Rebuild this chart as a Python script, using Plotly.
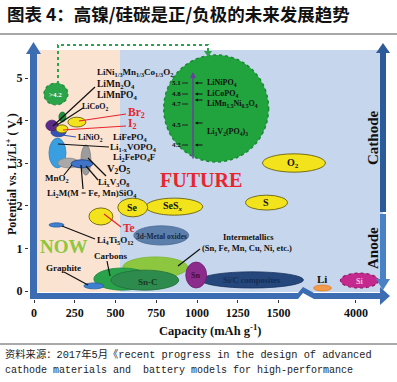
import plotly.graph_objects as go

# ---------------- data ----------------
# capacity axis is broken after 1500 mAh/g; values right of the break are in compressed axis units
materials = ["High-voltage cathodes", "O2", "S", "SeSx", "Se", "Te", "3d-Metal oxides",
             "Intermetallics", "Carbons", "Sn-C", "Si/C composites", "Sn", "Li", "Si",
             "Graphite", "Li4Ti5O12", "LiFePO4 / Li1-xVOPO4 / Li2FePO4F", "V2O5", "MnO2",
             "Li2MSiO4 / LixV3O8", "LiNiO2", "LiCoO2", "LiMn2O4 / LiMnPO4 / NMC", "I2", "Br2", ">4.2 V"]
cap_lo = [796, 1402, 1298, 686, 514, 337, 612, 545, 367, 472, 1023, 931, 1715, 1880,
          306, 92, 92, 288, 147, 227, 104, 73, 153, 135, 208, 61]
cap_hi = [1439, 1788, 1555, 1035, 698, 484, 949, 943, 716, 888, 1653, 1059, 1825, 2113,
          429, 184, 196, 349, 276, 361, 196, 147, 196, 208, 318, 208]
v_lo = [3.03, 2.79, 1.90, 1.78, 1.74, 1.55, 1.08, 0.31, 0.02, 0.02, 0.07, 0.07, 0.00, 0.07,
        0.05, 1.50, 2.89, 2.72, 2.89, 2.89, 3.62, 3.76, 3.97, 3.71, 3.85, 4.37]
v_hi = [5.54, 3.22, 2.25, 2.18, 2.18, 1.95, 1.53, 0.80, 0.54, 0.49, 0.45, 0.68, 0.14, 0.42,
        0.19, 1.60, 3.59, 3.43, 3.12, 3.08, 3.83, 4.01, 4.20, 3.90, 4.08, 4.88]

x_tick_vals = [0, 250, 500, 750, 1000, 1250, 1500, 1975]
x_tick_text = ["0", "250", "500", "750", "1000", "1250", "1500", "4000"]
y_tick_vals = [0, 1, 2, 3, 4, 5]

inset_volts = ["5.1", "4.8", "4.7", "4.5", "4.2"]
inset_materials = ["LiNiPO<sub>4</sub>", "LiCoPO<sub>4</sub>",
                   "LiMn<sub>1.5</sub>Ni<sub>0.5</sub>O<sub>4</sub>",
                   "Li<sub>3</sub>V<sub>2</sub>(PO<sub>4</sub>)<sub>3</sub>"]

# ---------------- styles ----------------
YEL = ("#f3e31c", "#5a5200", "solid", 0.8)
styles = [
    ("#21a33d", "#178a2e", "dot", 1.5), YEL, YEL, YEL, YEL, YEL,
    ("#5b7eab", "#4a6a95", "solid", 0.8),
    ("#8dc63f", "#7ab52f", "solid", 0.8),
    ("#2aa24c", "#1f8a3c", "solid", 0.8),
    ("#2e8b4e", "#206e3a", "solid", 0.8),
    ("#25477b", "#1b3560", "solid", 0.8),
    ("#8b2c8d", "#6e1f70", "solid", 0.8),
    ("#f29a4b", "#e08030", "solid", 0.8),
    ("#c42a8d", "#8e1c66", "dot", 1.2),
    ("#3f7fcf", "#2c5ea0", "solid", 0.8),
    ("#3f7fcf", "#2c5ea0", "solid", 0.8),
    ("#3a9fe0", "#2a80c0", "solid", 0.8),
    ("#9c9c9c", "#808080", "solid", 0.8),
    ("#a9a9a9", "#888888", "solid", 0.8),
    ("#3f74c8", "#1f3f80", "solid", 0.8),
    ("#3454b6", "#2a4596", "solid", 0.8),
    ("#5a2b88", "#45206a", "solid", 0.8),
    ("#1f8f3a", "#157030", "solid", 0.8),
    YEL, YEL,
    ("#2ca44a", "#1e8a3a", "dot", 1.2),
]

W, H = 397, 382
L_PX, R_PX, T_PX, B_PX = 29, 395, 40, 299
CAP0_PX, CAP_SCALE = 34.0, 0.163
V0_PX, V_SCALE = 291.0, 42.6
x_range = [(L_PX - CAP0_PX) / CAP_SCALE, (R_PX - CAP0_PX) / CAP_SCALE]
y_range = [(V0_PX - B_PX) / V_SCALE, (V0_PX - T_PX) / V_SCALE]


def fx(px):
    return (px - L_PX) / (R_PX - L_PX)


def fy(py):
    return (B_PX - py) / (B_PX - T_PX)


def poly(pts, close=True):
    s = "M " + " L ".join(f"{fx(a):.5f},{fy(b):.5f}" for a, b in pts)
    return s + (" Z" if close else "")


SERIF = "Liberation Serif"
fig = go.Figure()

# invisible hover layer built from the data
fig.add_trace(go.Scatter(
    x=[(a + b) / 2 for a, b in zip(cap_lo, cap_hi)],
    y=[(a + b) / 2 for a, b in zip(v_lo, v_hi)],
    mode="markers", marker=dict(size=8, opacity=0), text=materials,
    hoverinfo="text", showlegend=False))

shapes = []
# backgrounds
shapes.append(dict(type="rect", xref="paper", yref="paper", x0=fx(37), x1=fx(383), y0=fy(292), y1=fy(50),
                   fillcolor="#c6d6ec", line=dict(width=0), layer="below"))
shapes.append(dict(type="rect", xref="paper", yref="paper", x0=fx(37), x1=fx(120), y0=fy(292), y1=fy(50),
                   fillcolor="#fbe3d2", line=dict(width=0), layer="below"))

# ellipses from data
for i in range(len(materials)):
    fill, lc, dash, lw = styles[i]
    shapes.append(dict(type="circle", xref="x", yref="y", x0=cap_lo[i], x1=cap_hi[i], y0=v_lo[i], y1=v_hi[i],
                       fillcolor=fill, line=dict(color=lc, width=lw, dash=dash)))

# axis arrows
AX = "#3c6db3"
shapes.append(dict(type="rect", xref="paper", yref="paper", x0=fx(30), x1=fx(37), y0=fy(299), y1=fy(53),
                   fillcolor=AX, line=dict(width=0)))
shapes.append(dict(type="path", xref="paper", yref="paper", path=poly([(26, 54), (41, 54), (33.5, 42)]),
                   fillcolor=AX, line=dict(width=0)))
shapes.append(dict(type="rect", xref="paper", yref="paper", x0=fx(30), x1=fx(298), y0=fy(299), y1=fy(293),
                   fillcolor=AX, line=dict(width=0)))
shapes.append(dict(type="path", xref="paper", yref="paper",
                   path=poly([(298, 293), (303, 287), (314, 293), (314, 299), (303, 293), (298, 299)]),
                   fillcolor=AX, line=dict(width=0)))
shapes.append(dict(type="rect", xref="paper", yref="paper", x0=fx(314), x1=fx(381), y0=fy(299), y1=fy(293),
                   fillcolor=AX, line=dict(width=0)))
shapes.append(dict(type="path", xref="paper", yref="paper", path=poly([(380, 287), (380, 305), (390, 296)]),
                   fillcolor=AX, line=dict(width=0)))
# cathode / anode arrow
shapes.append(dict(type="rect", xref="paper", yref="paper", x0=fx(380), x1=fx(386), y0=fy(212), y1=fy(52),
                   fillcolor="#2d5a98", line=dict(width=0)))
shapes.append(dict(type="path", xref="paper", yref="paper", path=poly([(376, 53), (390, 53), (383, 43)]),
                   fillcolor="#2d5a98", line=dict(width=0)))
shapes.append(dict(type="rect", xref="paper", yref="paper", x0=fx(380), x1=fx(386), y0=fy(280), y1=fy(214),
                   fillcolor="#4a80c4", line=dict(width=0)))
shapes.append(dict(type="path", xref="paper", yref="paper", path=poly([(376, 279), (390, 279), (383, 290)]),
                   fillcolor="#4a80c4", line=dict(width=0)))

# green dotted connector
shapes.append(dict(type="path", xref="paper", yref="paper",
                   path=poly([(58, 84), (58, 45), (208, 45), (208, 52)], close=False),
                   line=dict(color="#2ca44a", width=2, dash="dot")))
shapes.append(dict(type="path", xref="paper", yref="paper", path=poly([(204, 51), (212, 51), (208, 57)]),
                   fillcolor="#2ca44a", line=dict(width=0)))


# leader lines
def seg(p, q, color="#111111", w=1.2):
    shapes.append(dict(type="line", xref="paper", yref="paper", x0=fx(p[0]), y0=fy(p[1]),
                       x1=fx(q[0]), y1=fy(q[1]), line=dict(color=color, width=w)))


RED = "#e8252f"
seg((79, 121), (126, 114), RED)
seg((63, 130), (126, 126), RED)
seg((104, 214), (121, 227), RED)
seg((62, 135), (76, 137), "#3355b8")
seg((95, 87), (53, 126))
seg((83, 108), (57, 125))
seg((109, 147), (58, 144))
seg((64, 175), (72, 165))
seg((83, 189), (81, 165))
seg((98, 180), (86, 166))
seg((106, 176), (88, 158))
seg((62, 226), (95, 239))
seg((64, 272), (88, 285))
seg((107, 261), (110, 276))
seg((200, 249), (178, 266))
# inset tick dashes
inset_y = [83, 94, 104, 125, 145]
for yy in inset_y:
    seg((182, yy), (188, yy), "#222222", 1)
# separators
shapes.append(dict(type="line", xref="paper", yref="paper", x0=fx(0), x1=fx(397), y0=fy(34), y1=fy(34),
                   line=dict(color="#8a8a8a", width=1.5)))
shapes.append(dict(type="line", xref="paper", yref="paper", x0=fx(0), x1=fx(397), y0=fy(344), y1=fy(344),
                   line=dict(color="#555555", width=1)))

ann = []


def lab(text, px, py, size=9, color="#111111", xa="left", family=SERIF, weight="bold", angle=0):
    ann.append(dict(text=text, x=fx(px), y=fy(py), xref="paper", yref="paper", xanchor=xa,
                    yanchor="middle", showarrow=False, textangle=angle,
                    font=dict(family=family, size=size, color=color, weight=weight)))


lab("LiNi<sub>1/3</sub>Mn<sub>1/3</sub>Co<sub>1/3</sub>O<sub>2</sub>", 95, 72, 9)
lab("LiMn<sub>2</sub>O<sub>4</sub>", 95, 84, 9.5)
lab("LiMnPO<sub>4</sub>", 95, 95, 9.5)
lab("LiCoO<sub>2</sub>", 80, 107, 8)
lab("Br<sub>2</sub>", 126, 113, 11.5, RED)
lab("I<sub>2</sub>", 126, 124, 11.5, RED)
lab("LiNiO<sub>2</sub>", 76, 138, 8)
lab("LiFePO<sub>4</sub>", 111, 137, 9)
lab("Li<sub>1-x</sub>VOPO<sub>4</sub>", 108, 147, 9)
lab("Li<sub>2</sub>FePO<sub>4</sub>F", 111, 157, 9)
lab("V<sub>2</sub>O<sub>5</sub>", 105, 169, 10.5)
lab("MnO<sub>2</sub>", 43, 178, 9)
lab("Li<sub>x</sub>V<sub>3</sub>O<sub>8</sub>", 96, 182, 9)
lab("Li<sub>2</sub>M(M = Fe, Mn)SiO<sub>4</sub>", 45, 194, 9)
lab("Te", 121, 228, 11.5, RED)
lab("Li<sub>4</sub>Ti<sub>5</sub>O<sub>12</sub>", 95, 240, 9)
lab("NOW", 38, 246, 19, "#8dc63f")
lab("Carbons", 92, 256, 9)
lab("Graphite", 44, 268, 9)
lab("3d-Metal oxides", 161, 236, 7.5, "#1c2a3c", "center")
lab("Intermetallics", 248, 237, 8.5, "#111111", "center")
lab("(Sn, Fe, Mn, Cu, Ni, etc.)", 200, 248, 8.5)
lab("Sn-C", 148, 282, 9, "#163b20", "center")
lab("Sn", 195, 275, 8, "#3d0b40", "center")
lab("Si/C composites", 252, 280, 8.5, "#142f58", "center")
lab("Li", 322, 279, 11, "#111111", "center")
lab("Si", 359, 281, 8, "#f4c8e4", "center")
lab("FUTURE", 158, 180, 20, RED)
lab("O<sub>2</sub>", 293, 163, 10, "#111111", "center")
lab("S", 266, 202, 10, "#111111", "center")
lab("Se", 132, 207, 10, "#111111", "center")
lab("SeS<sub><i>x</i></sub>", 173, 206, 10, "#111111", "center")
lab("&gt;4.2", 55, 95, 7, "#ffffff", "center")
for t, yy in zip(inset_volts, inset_y):
    lab(t, 176, yy, 7, "#111111", "center")
for t, yy in zip(inset_materials, [83, 94, 104, 132]):
    lab(t, 205, yy, 8)
lab("Cathode", 373, 138, 15, "#111111", "center", angle=-90)
lab("Anode", 373, 248, 15, "#111111", "center", angle=-90)
lab("Potential vs. Li/Li<sup>+</sup> ( V )", 11, 174, 12, "#111111", "center", angle=-90)
lab("Capacity (mAh g<sup>-1</sup>)", 210, 330, 12.5, "#111111", "center")
lab("图表 4：高镍/硅碳是正/负极的未来发展趋势", 5, 14, 17.5, "#111111", "left", family="Noto Sans CJK SC")
lab("资料来源：2017年5月《recent progress in the design of advanced", 3, 354, 10.3, "#222222", "left",
    family="Liberation Mono, Noto Sans CJK SC", weight="normal")
lab("cathode materials and  battery models for high-performance", 3, 371, 10, "#222222", "left",
    family="Liberation Mono, Noto Sans CJK SC", weight="normal")

# purple inset arrow and small pointer arrows
ann.append(dict(text="", x=fx(193), y=fy(72), xref="paper", yref="paper", showarrow=True,
                ax=0, ay=88, arrowhead=2, arrowsize=0.8, arrowwidth=1.5, arrowcolor="#6b3fa0"))
for yy in [83, 94, 100, 123, 145]:
    ann.append(dict(text="", x=fx(195), y=fy(yy), xref="paper", yref="paper", showarrow=True,
                    ax=9, ay=0, arrowhead=2, arrowsize=0.6, arrowwidth=1, arrowcolor="#111111"))

fig.update_layout(
    width=W, height=H,
    margin=dict(l=L_PX, r=W - R_PX, t=T_PX, b=H - B_PX, autoexpand=False),
    paper_bgcolor="white", plot_bgcolor="white",
    shapes=shapes, annotations=ann, showlegend=False,
    xaxis=dict(range=x_range, tickvals=x_tick_vals, ticktext=x_tick_text, showgrid=False,
               zeroline=False, showline=False, ticks="outside", ticklen=3, tickcolor="#333333",
               tickfont=dict(family=SERIF, size=12, color="#111111", weight="bold"), automargin=False,
               fixedrange=True),
    yaxis=dict(range=y_range, tickvals=y_tick_vals, showgrid=False, zeroline=False, showline=False,
               ticks="outside", ticklen=3, tickcolor="#333333",
               tickfont=dict(family=SERIF, size=12, color="#111111", weight="bold"), automargin=False,
               fixedrange=True),
)

fig.write_html("out.html", config={"displayModeBar": False},
               post_script="document.body.style.margin='0';document.body.style.overflow='hidden';")
